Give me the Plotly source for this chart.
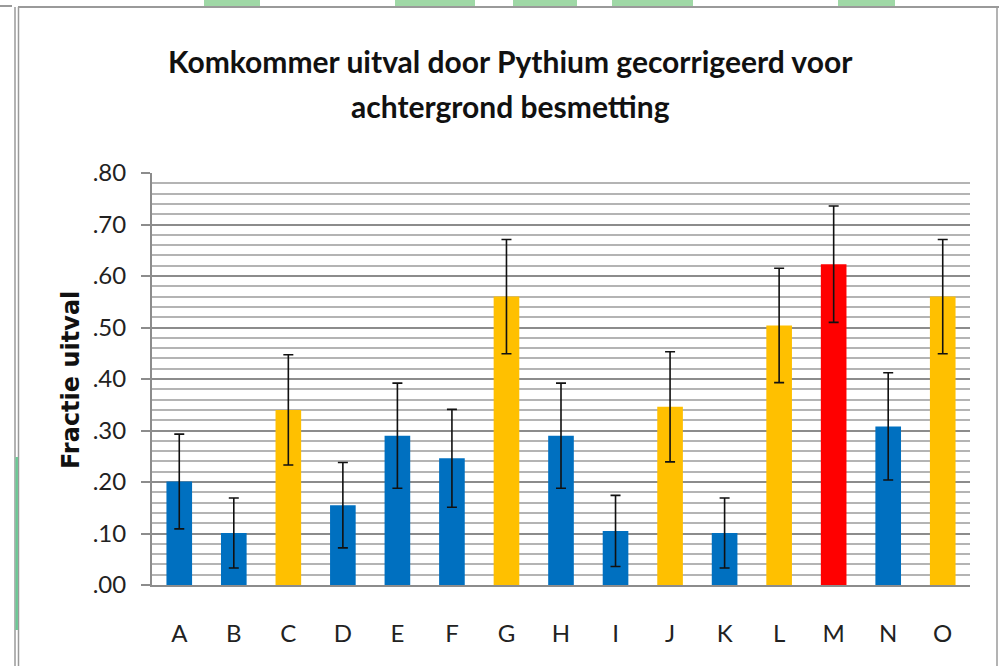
import plotly.graph_objects as go

categories = ["A", "B", "C", "D", "E", "F", "G", "H", "I", "J", "K", "L", "M", "N", "O"]
values = [0.201, 0.101, 0.340, 0.155, 0.290, 0.246, 0.560, 0.290, 0.105, 0.346, 0.101, 0.504, 0.623, 0.308, 0.560]
errors = [0.092, 0.068, 0.107, 0.083, 0.102, 0.095, 0.111, 0.102, 0.069, 0.107, 0.068, 0.111, 0.113, 0.104, 0.111]
groups = ["b", "b", "y", "b", "b", "b", "y", "b", "b", "y", "b", "y", "r", "b", "y"]
group_colors = {"b": "#0070C0", "y": "#FFC000", "r": "#FF0000"}
y_ticks = [0.0, 0.1, 0.2, 0.3, 0.4, 0.5, 0.6, 0.7, 0.8]
y_ticktext = [".00", ".10", ".20", ".30", ".40", ".50", ".60", ".70", ".80"]
title_lines = ["Komkommer uitval door Pythium gecorrigeerd voor", "achtergrond besmetting"]
y_title = "Fractie uitval"

W, H = 999, 666
L, R, T, B = 152, 29, 173, 81
PW, PH = W - L - R, H - T - B


def px(x):
    return (x - L) / PW


def py(y):
    return (H - B - y) / PH


fig = go.Figure()
fig.add_trace(go.Bar(
    x=categories, y=values,
    marker=dict(color=[group_colors[g] for g in groups], line=dict(width=0)),
    error_y=dict(type="data", array=errors, visible=True, color="#111111", thickness=1.6, width=5),
    showlegend=False,
))

shapes = []
line_col = "#9a9a9a"
# frame lines
shapes.append(dict(type="line", xref="paper", yref="paper", x0=px(18), x1=px(999), y0=py(7), y1=py(7),
                   line=dict(color=line_col, width=2)))
shapes.append(dict(type="line", xref="paper", yref="paper", x0=px(0), x1=px(12), y0=py(6), y1=py(6),
                   line=dict(color=line_col, width=2)))
shapes.append(dict(type="line", xref="paper", yref="paper", x0=px(15), x1=px(15), y0=py(7), y1=py(666),
                   line=dict(color=line_col, width=1.5)))
shapes.append(dict(type="line", xref="paper", yref="paper", x0=px(18.5), x1=px(18.5), y0=py(7), y1=py(666),
                   line=dict(color=line_col, width=1.5)))
shapes.append(dict(type="line", xref="paper", yref="paper", x0=px(16.7), x1=px(16.7), y0=py(457), y1=py(630),
                   line=dict(color="#6cc895", width=2.5)))
shapes.append(dict(type="line", xref="paper", yref="paper", x0=px(997), x1=px(997), y0=py(7), y1=py(666),
                   line=dict(color=line_col, width=1.5)))
# green marks at top edge
for x0, x1 in [(204, 260), (395, 475), (513, 577), (612, 693), (838, 895)]:
    shapes.append(dict(type="rect", xref="paper", yref="paper", x0=px(x0), x1=px(x1), y0=py(0), y1=py(6),
                       fillcolor="#9fd8a6", line=dict(width=0), layer="below"))

annotations = [
    dict(text="<b>" + title_lines[0] + "</b>", xref="paper", yref="paper", x=px(510), y=py(61),
         xanchor="center", yanchor="middle", showarrow=False,
         font=dict(family="Lato", size=30, color="#111111")),
    dict(text="<b>" + title_lines[1] + "</b>", xref="paper", yref="paper", x=px(510), y=py(106),
         xanchor="center", yanchor="middle", showarrow=False,
         font=dict(family="Lato", size=30, color="#111111")),
    dict(text="<b>" + y_title + "</b>", xref="paper", yref="paper", x=px(71), y=py(380),
         xanchor="center", yanchor="middle", showarrow=False, textangle=-90,
         font=dict(family="DejaVu Sans", size=24, color="#111111")),
]

fig.update_layout(
    width=W, height=H,
    margin=dict(l=L, r=R, t=T, b=B, autoexpand=False),
    paper_bgcolor="white", plot_bgcolor="white",
    bargap=0.53,
    shapes=shapes,
    annotations=annotations,
    xaxis=dict(
        showgrid=False, showline=True, linecolor="#8c8c8c", linewidth=2,
        ticks="", tickfont=dict(family="Lato", size=24, color="#222222"),
        ticklabelstandoff=26, zeroline=False,
    ),
    yaxis=dict(
        range=[0, 0.8], tickvals=y_ticks, ticktext=y_ticktext,
        showline=True, linecolor="#8c8c8c", linewidth=2,
        ticks="outside", ticklen=9, tickcolor="#8c8c8c", tickwidth=2,
        showgrid=True, gridcolor="#8c8c8c", gridwidth=2,
        minor=dict(dtick=0.02, showgrid=True, gridcolor="#b4b4b4", gridwidth=2, ticks=""),
        tickfont=dict(family="Lato", size=24, color="#222222"),
        ticklabelstandoff=10, zeroline=False,
    ),
)

fig.write_html("out.html", config={"displayModeBar": False},
               post_script="document.body.style.margin='0px';document.body.style.overflow='hidden';")
